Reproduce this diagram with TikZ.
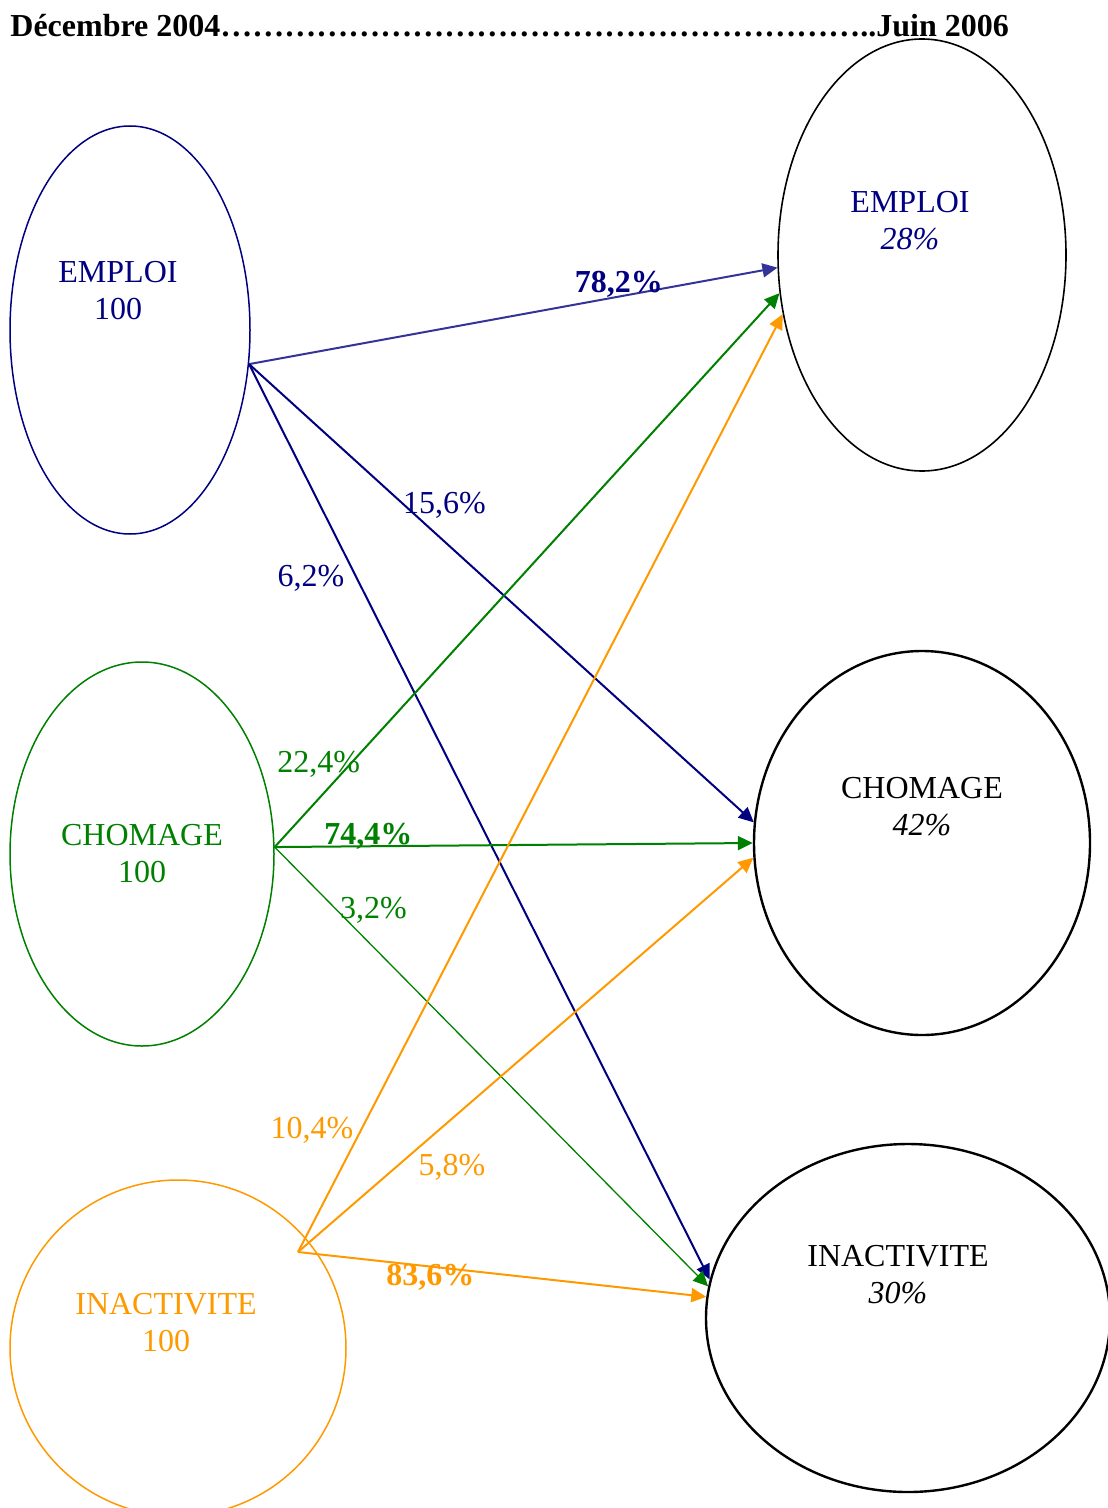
\documentclass[tikz,border=0pt]{standalone}
\usepackage{fontspec}
\setmainfont{Liberation Serif}
\usetikzlibrary{shapes.geometric,arrows.meta}
\definecolor{navy}{RGB}{0,0,128}
\definecolor{slate}{RGB}{51,51,153}
\definecolor{vert}{RGB}{0,128,0}
\definecolor{orangeflux}{RGB}{255,153,0}
\ExplSyntaxOn
\NewDocumentCommand\points{m}{\prg_replicate:nn{#1}{\char"2026\relax}}
\ExplSyntaxOff
\begin{document}
\begin{tikzpicture}[x=0.5pt,y=-0.5pt,
    etat/.style={draw, ellipse, inner sep=0pt},
    txt/.style={align=center, font=\fontsize{16}{18.5}\selectfont},
    fleche/.style={line width=1pt, -{Triangle[length=7.5pt,width=7pt]}},
    pct/.style={inner sep=0pt, font=\fontsize{16}{18.5}\selectfont},
    pctb/.style={inner sep=0pt, font=\bfseries\fontsize{16}{18.5}\selectfont}]
    \useasboundingbox (0,0) rectangle (1107,1508);
    % Titre
    \node[anchor=base west, inner sep=0pt, font=\bfseries\fontsize{16}{18.5}\selectfont] (titre) at (10,37)
        {Décembre 2004\points{20}..Juin 2006};

    % Decembre 2004
    \node[etat, navy, line width=0.75pt, minimum width=120pt, minimum height=204pt] (emp0) at (130,330) {};
    \node[etat, vert, line width=0.75pt, minimum width=132pt, minimum height=192pt] (cho0) at (142,854) {};
    \node[etat, orangeflux, line width=0.75pt, minimum width=168pt, minimum height=168pt] (ina0) at (178,1348) {};
    \node[txt, navy] (emp0t) at (118,291) {EMPLOI\\100};
    \node[txt, vert] (cho0t) at (142,854) {CHOMAGE\\100};
    \node[txt, orangeflux] (ina0t) at (166,1323) {INACTIVITE\\100};

    % Juin 2006
    \node[etat, line width=0.8pt, minimum width=144pt, minimum height=216pt] (emp1) at (922,255) {};
    \node[etat, line width=1.2pt, minimum width=168pt, minimum height=192pt] (cho1) at (922,843) {};
    \node[etat, line width=1.2pt, minimum width=202pt, minimum height=174pt] (ina1) at (908,1318) {};
    \node[txt, navy] (emp1t) at (910,221) {EMPLOI\\\textit{28\%}};
    \node[txt] (cho1t) at (922,807) {CHOMAGE\\\textit{42\%}};
    \node[txt] (ina1t) at (898,1275) {INACTIVITE\\\textit{30\%}};

    % Flux depuis l'emploi
    \draw[fleche, slate] (emp0.-16) -- node[pctb, navy, pos=0.7, yshift=6pt] {78,2\%} (emp1.185);
    \draw[fleche, navy] (emp0.-16) -- node[pct, pos=0.387, yshift=18pt] {15,6\%} (cho1.173);
    \draw[fleche, navy] (emp0.-16) -- node[pct, pos=0.234, xshift=-23pt] {6,2\%} (ina1.169);

    % Flux depuis le chomage
    \draw[fleche, vert] (cho0.3) -- node[pct, pos=0.087, yshift=17.5pt] {22,4\%} (emp1.195);
    \draw[fleche, vert] (cho0.3) -- node[pctb, pos=0.196, yshift=5pt] {74,4\%} (cho1.180);
    \draw[fleche, vert, line width=0.65pt] (cho0.3) -- node[pct, pos=0.145, xshift=18pt] {3,2\%} (ina1.171);

    % Flux depuis l'inactivite
    \coordinate (ina0d) at (298,1252);
    \draw[fleche, orangeflux] (ina0d) -- node[pct, pos=0.13, xshift=-24.5pt] {10,4\%} (emp1.203);
    \draw[fleche, orangeflux] (ina0d) -- node[pct, pos=0.338, yshift=-24.5pt] {5,8\%} (cho1.185);
    \draw[fleche, orangeflux] (ina0d) -- node[pctb, pos=0.324, yshift=-5.5pt] {83,6\%} (ina1.174);
\end{tikzpicture}
\end{document}
